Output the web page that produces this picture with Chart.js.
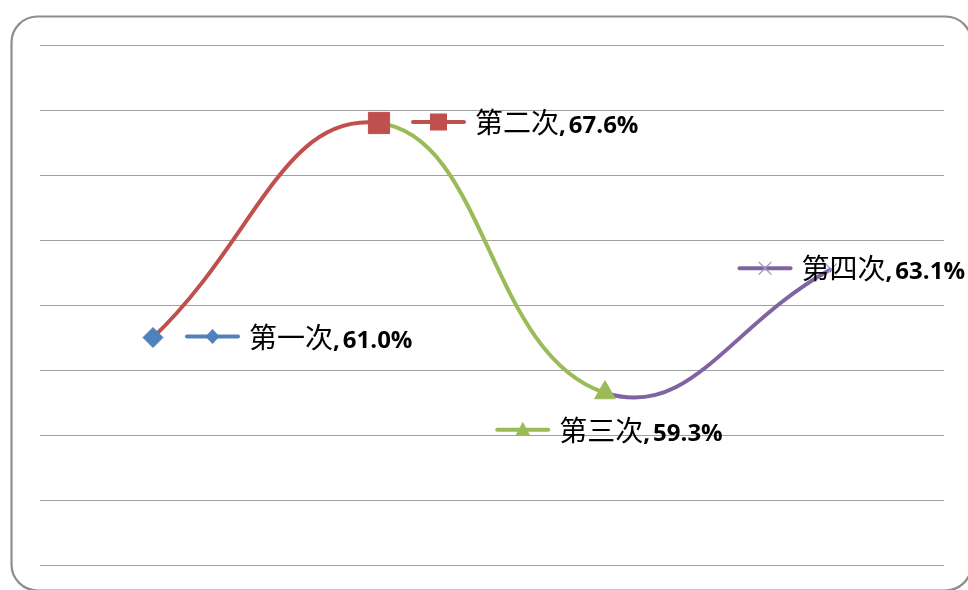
<!DOCTYPE html>
<html>
<head>
<meta charset="utf-8">
<script src="https://cdn.jsdelivr.net/npm/chart.js@4/dist/chart.umd.min.js"></script>
<style>
  html, body { margin: 0; padding: 0; background: #ffffff; }
  #wrap { width: 968px; height: 590px; position: relative; }
</style>
</head>
<body>
<div id="wrap"><canvas id="c" width="968" height="590"></canvas></div>
<script>
// Rates for each round
const categories = ['第一次', '第二次', '第三次', '第四次'];
const rates = [61.0, 67.6, 59.3, 63.1];
const yTicks = [54, 56, 58, 60, 62, 64, 66, 68, 70];

// Per-round styling
const colors = ['#4F81BD', '#C0504D', '#9BBB59', '#8064A2'];
const markers = ['rectRot', 'rect', 'triangle', 'crossRot'];
const markerSizes = [10, 15, 12, 8];
const markerBorders = [1, 1, 1, 1.2];
const markerStroke = ['#4F81BD', '#C0504D', '#9BBB59', '#A797C6'];
const labelPlacement = ['right', 'right', 'below', 'right'];

const cjkFont = '28px "Noto Sans CJK SC", sans-serif';
const numFont = 'bold 24px "Open Sans", "Liberation Sans", sans-serif';

// Rounded outer frame
const framePlugin = {
  id: 'frame',
  beforeDraw(chart) {
    const ctx = chart.ctx;
    ctx.save();
    ctx.fillStyle = '#ffffff';
    ctx.fillRect(0, 0, chart.width, chart.height);
    ctx.beginPath();
    ctx.roundRect(11.5, 16.5, 960, 574, 26);
    ctx.strokeStyle = '#8e8e8e';
    ctx.lineWidth = 2.2;
    ctx.stroke();
    ctx.restore();
  }
};

// Small legend-key glyph used inside the value labels
function drawKeyMarker(ctx, i, x, y) {
  ctx.save();
  ctx.fillStyle = colors[i];
  ctx.strokeStyle = markerStroke[i];
  ctx.beginPath();
  if (i === 0) {
    ctx.moveTo(x, y - 7.5); ctx.lineTo(x + 7, y); ctx.lineTo(x, y + 7.5); ctx.lineTo(x - 7, y);
    ctx.closePath(); ctx.fill();
  } else if (i === 1) {
    ctx.rect(x - 8.5, y - 8.5, 17, 17); ctx.fill();
  } else if (i === 2) {
    ctx.moveTo(x, y - 8); ctx.lineTo(x + 7.5, y + 6); ctx.lineTo(x - 7.5, y + 6);
    ctx.closePath(); ctx.fill();
  } else {
    ctx.lineWidth = 1.2;
    ctx.moveTo(x - 6, y - 6); ctx.lineTo(x + 6, y + 6);
    ctx.moveTo(x + 6, y - 6); ctx.lineTo(x - 6, y + 6);
    ctx.stroke();
  }
  ctx.restore();
}

// Value labels with a legend key, placed next to each point
const pointLabels = {
  id: 'pointLabels',
  afterDatasetsDraw(chart) {
    const ctx = chart.ctx;
    const meta = chart.getDatasetMeta(0);
    meta.data.forEach((pt, i) => {
      const name = categories[i];
      const comma = ',';
      const value = rates[i].toFixed(1) + '%';
      ctx.save();
      ctx.font = cjkFont;
      const w1 = ctx.measureText(name).width;
      ctx.font = numFont;
      const wc = ctx.measureText(comma).width + 3;
      const w2 = ctx.measureText(value).width;
      const keyLen = 55, gap = 9;
      const total = keyLen + gap + w1 + wc + w2;
      let x0, y;
      if (labelPlacement[i] === 'below') {
        x0 = pt.x - total / 2 + 4;
        y = pt.y + 37;
      } else {
        x0 = pt.x + 32;
        y = pt.y - 1;
      }
      x0 = Math.min(x0, chart.width - 3 - total);
      // key line
      ctx.strokeStyle = colors[i];
      ctx.lineWidth = 4;
      ctx.lineCap = 'round';
      ctx.beginPath();
      ctx.moveTo(x0 + 2, y);
      ctx.lineTo(x0 + keyLen - 2, y);
      ctx.stroke();
      drawKeyMarker(ctx, i, x0 + keyLen / 2, y);
      // text
      const base = y + 11;
      const tx = x0 + keyLen + gap;
      ctx.fillStyle = '#000000';
      ctx.textBaseline = 'alphabetic';
      ctx.textAlign = 'left';
      ctx.font = cjkFont;
      ctx.fillText(name, tx, base);
      ctx.font = numFont;
      ctx.fillText(comma, tx + w1, base);
      ctx.fillText(value, tx + w1 + wc, base);
      ctx.restore();
    });
  }
};

new Chart(document.getElementById('c'), {
  type: 'line',
  data: {
    labels: categories,
    datasets: [{
      data: rates,
      borderWidth: 4,
      tension: 0.45,
      fill: false,
      segment: {
        borderColor: c => colors[c.p1DataIndex]
      },
      pointStyle: markers,
      pointRadius: markerSizes,
      pointHoverRadius: markerSizes,
      pointBackgroundColor: colors,
      pointBorderColor: markerStroke,
      pointBorderWidth: markerBorders,
      clip: false
    }]
  },
  options: {
    responsive: false,
    animation: false,
    events: [],
    layout: { padding: { left: 40, right: 24, top: 45, bottom: 25 } },
    plugins: {
      legend: { display: false },
      tooltip: { enabled: false },
      title: { display: false }
    },
    scales: {
      x: {
        display: false,
        offset: true
      },
      y: {
        display: true,
        min: 54,
        max: 70,
        afterBuildTicks: s => { s.ticks = yTicks.map(v => ({ value: v })); },
        ticks: { display: false },
        grid: { color: '#a0a0a0', lineWidth: 1, drawTicks: false },
        border: { display: false }
      }
    }
  },
  plugins: [framePlugin, pointLabels]
});
</script>
</body>
</html>
